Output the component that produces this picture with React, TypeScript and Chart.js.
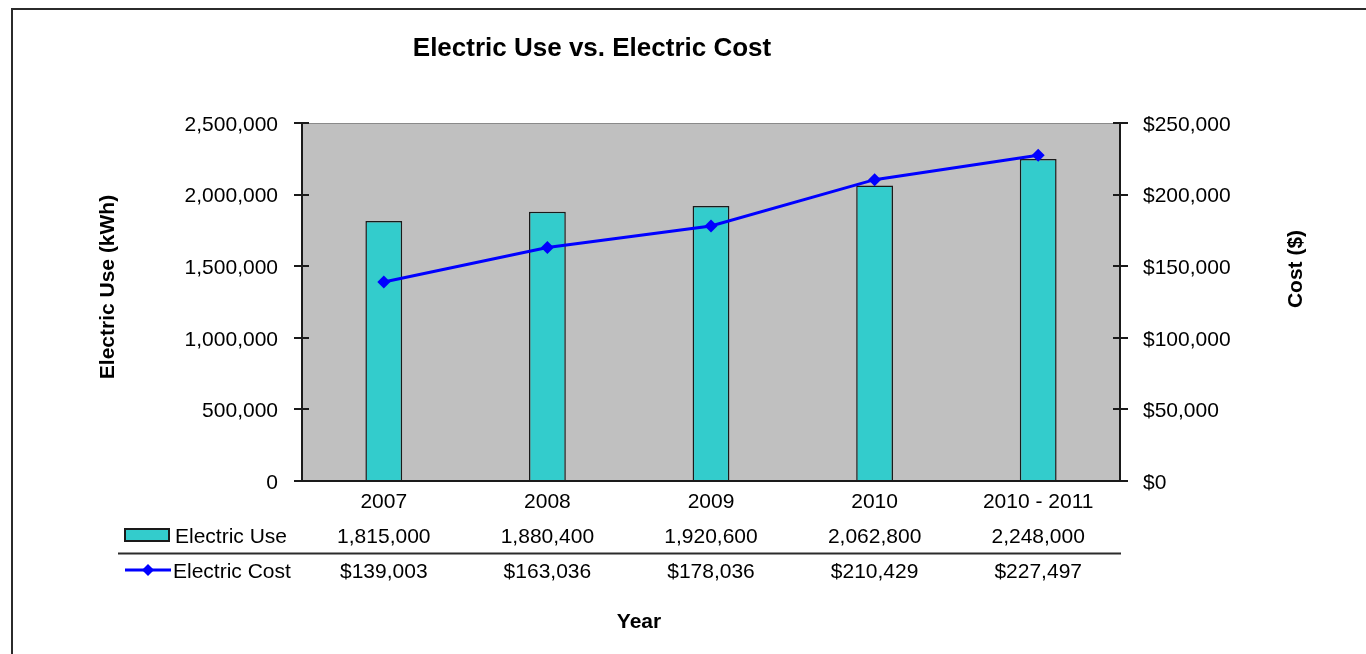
import React, { useEffect, useRef } from 'react';
import { Chart, registerables } from 'chart.js';

Chart.register(...registerables);

// ---- data ----
const categories = ['2007', '2008', '2009', '2010', '2010 - 2011'];
const electricUse = [1815000, 1880400, 1920600, 2062800, 2248000];
const electricCost = [139003, 163036, 178036, 210429, 227497];
const useAxisMax = 2500000;
const useAxisStep = 500000;
const costAxisMax = 250000;
const costAxisStep = 50000;
const seriesNames = ['Electric Use', 'Electric Cost'];
const chartTitle = 'Electric Use vs. Electric Cost';
const leftAxisTitle = 'Electric Use (kWh)';
const rightAxisTitle = 'Cost ($)';
const xAxisTitle = 'Year';

const FONT = '"Liberation Sans", Arial, sans-serif';
const BAR_COLOR = '#33cccc';
const LINE_COLOR = '#0000ff';

const fmtNum = (v: number) => v.toLocaleString('en-US');
const fmtCur = (v: number) => '$' + v.toLocaleString('en-US');

const decorPlugin = {
  id: 'decor',
  beforeDraw(chart: any) {
    const { ctx, chartArea: a } = chart;
    ctx.save();
    ctx.fillStyle = '#ffffff';
    ctx.fillRect(0, 0, chart.width, chart.height);
    // plot background
    ctx.fillStyle = '#c0c0c0';
    ctx.fillRect(a.left, a.top, a.right - a.left, a.bottom - a.top);
    ctx.strokeStyle = '#8a8a8a';
    ctx.lineWidth = 1;
    ctx.beginPath();
    ctx.moveTo(a.left, a.top + 0.5);
    ctx.lineTo(a.right, a.top + 0.5);
    ctx.stroke();
    // outer frame
    ctx.strokeStyle = '#2b2b2b';
    ctx.lineWidth = 2;
    ctx.beginPath();
    ctx.moveTo(12, chart.height);
    ctx.lineTo(12, 9);
    ctx.lineTo(chart.width, 9);
    ctx.stroke();
    ctx.restore();
  },
  afterDatasetsDraw(chart: any) {
    const { ctx, chartArea: a, scales } = chart;
    ctx.save();
    ctx.strokeStyle = '#1a1a1a';
    ctx.lineWidth = 2;
    ctx.beginPath();
    // left axis
    ctx.moveTo(a.left, a.top);
    ctx.lineTo(a.left, a.bottom);
    // right axis
    ctx.moveTo(a.right, a.top);
    ctx.lineTo(a.right, a.bottom);
    // bottom axis
    ctx.moveTo(a.left - 8, a.bottom);
    ctx.lineTo(a.right + 8, a.bottom);
    ctx.stroke();
    ctx.lineWidth = 2;
    ctx.beginPath();
    scales.y.ticks.forEach((t: any) => {
      const y = Math.round(scales.y.getPixelForValue(t.value));
      ctx.moveTo(a.left - 8, y);
      ctx.lineTo(a.left + 7, y);
    });
    scales.y1.ticks.forEach((t: any) => {
      const y = Math.round(scales.y1.getPixelForValue(t.value));
      ctx.moveTo(a.right - 7, y);
      ctx.lineTo(a.right + 8, y);
    });
    ctx.stroke();
    ctx.restore();
  },
  afterDraw(chart: any) {
    const { ctx, scales } = chart;
    ctx.save();
    ctx.fillStyle = '#000000';
    // title
    ctx.font = `bold 26px ${FONT}`;
    ctx.textAlign = 'center';
    ctx.textBaseline = 'middle';
    ctx.fillText(chartTitle, 592, 49);
    // axis titles
    ctx.font = `bold 21px ${FONT}`;
    ctx.fillText(xAxisTitle, 639, 622);
    ctx.save();
    ctx.translate(108, 287);
    ctx.rotate(-Math.PI / 2);
    ctx.fillText(leftAxisTitle, 0, 0);
    ctx.restore();
    ctx.save();
    ctx.translate(1296, 269);
    ctx.rotate(-Math.PI / 2);
    ctx.fillText(rightAxisTitle, 0, 0);
    ctx.restore();

    // data table
    const row1 = 537;
    const row2 = 572;
    ctx.font = `21px ${FONT}`;
    ctx.textAlign = 'center';
    categories.forEach((_, i) => {
      const x = scales.x.getPixelForValue(i);
      ctx.fillText(fmtNum(electricUse[i]), x, row1);
      ctx.fillText(fmtCur(electricCost[i]), x, row2);
    });
    ctx.textAlign = 'left';
    ctx.fillText(seriesNames[0], 175, row1);
    ctx.fillText(seriesNames[1], 173, row2);
    // legend key: bar
    ctx.fillStyle = BAR_COLOR;
    ctx.fillRect(125, 529, 44, 12);
    ctx.strokeStyle = '#1a1a1a';
    ctx.lineWidth = 2;
    ctx.strokeRect(125, 529, 44, 12);
    // legend key: line
    ctx.strokeStyle = LINE_COLOR;
    ctx.lineWidth = 3;
    ctx.beginPath();
    ctx.moveTo(125, 570);
    ctx.lineTo(171, 570);
    ctx.stroke();
    ctx.fillStyle = LINE_COLOR;
    ctx.beginPath();
    ctx.moveTo(148, 564);
    ctx.lineTo(154, 570);
    ctx.lineTo(148, 576);
    ctx.lineTo(142, 570);
    ctx.closePath();
    ctx.fill();
    // separator
    ctx.strokeStyle = '#2b2b2b';
    ctx.lineWidth = 2;
    ctx.beginPath();
    ctx.moveTo(118, 553.5);
    ctx.lineTo(1121, 553.5);
    ctx.stroke();
    ctx.restore();
  },
};

export default function App() {
  const ref = useRef<HTMLCanvasElement>(null);
  useEffect(() => {
    if (!ref.current) return;
    const chart = new Chart(ref.current, {
      type: 'bar',
      data: {
        labels: categories,
        datasets: [
          {
            type: 'line',
            label: seriesNames[1],
            data: electricCost,
            yAxisID: 'y1',
            borderColor: LINE_COLOR,
            backgroundColor: LINE_COLOR,
            borderWidth: 3,
            pointStyle: 'rectRot',
            pointRadius: 6.5,
            pointBackgroundColor: LINE_COLOR,
            pointBorderColor: LINE_COLOR,
            pointBorderWidth: 0,
            tension: 0,
            order: 1,
          } as any,
          {
            type: 'bar',
            label: seriesNames[0],
            data: electricUse,
            yAxisID: 'y',
            backgroundColor: BAR_COLOR,
            borderColor: '#1a1a1a',
            borderWidth: 1.5,
            barPercentage: 0.225,
            categoryPercentage: 1,
            order: 2,
          } as any,
        ],
      },
      options: {
        responsive: false,
        animation: false,
        devicePixelRatio: 1,
        layout: { padding: { top: 123, left: 0, right: 0, bottom: 0 } },
        plugins: { legend: { display: false }, title: { display: false }, tooltip: { enabled: false } },
        scales: {
          x: {
            grid: { display: false, drawTicks: false },
            border: { display: false },
            ticks: { color: '#000', font: { family: FONT, size: 21 }, padding: 9, maxRotation: 0, autoSkip: false },
            afterFit: (s: any) => { s.height = 173; },
          },
          y: {
            position: 'left',
            min: 0,
            max: useAxisMax,
            grid: { display: false, drawTicks: false },
            border: { display: false },
            ticks: { stepSize: useAxisStep, color: '#000', font: { family: FONT, size: 21 }, padding: 24, labelOffset: 2, callback: (v: any) => fmtNum(Number(v)) },
            afterFit: (s: any) => { s.width = 302; },
          },
          y1: {
            position: 'right',
            min: 0,
            max: costAxisMax,
            grid: { display: false, drawTicks: false },
            border: { display: false },
            ticks: { stepSize: costAxisStep, color: '#000', font: { family: FONT, size: 21 }, padding: 23, labelOffset: 2, callback: (v: any) => fmtCur(Number(v)) },
            afterFit: (s: any) => { s.width = 246; },
          },
        },
      } as any,
      plugins: [decorPlugin],
    });
    return () => chart.destroy();
  }, []);
  return (
    <div style={{ position: 'fixed', left: 0, top: 0, width: 1366, height: 654, background: '#fff' }}>
      <canvas ref={ref} width={1366} height={654} style={{ display: 'block' }} />
    </div>
  );
}
